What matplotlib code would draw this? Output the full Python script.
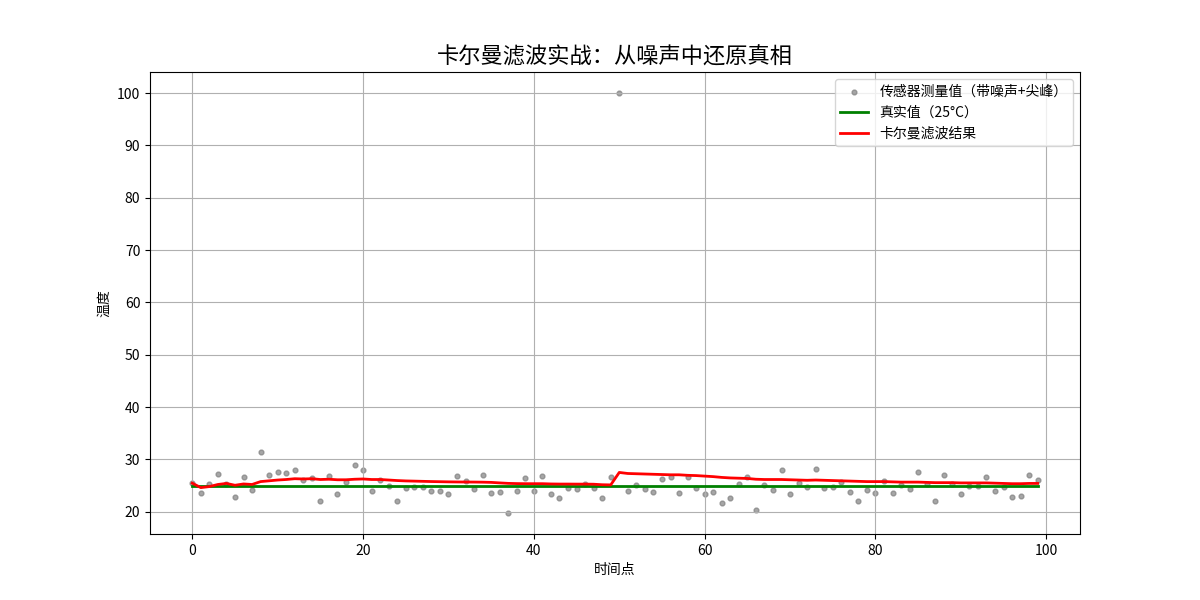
import matplotlib
matplotlib.use("Agg")
import matplotlib.pyplot as plt

plt.rcParams['font.family'] = ['Noto Sans CJK SC', 'DejaVu Sans']
plt.rcParams['axes.unicode_minus'] = False

# ------------------------
# Sensor data
# ------------------------
time_steps = list(range(100))

measurements = [
    25.5, 23.6, 25.3, 27.2, 25.3, 22.8, 26.6, 24.1, 31.4, 27.0,
    27.6, 27.4, 28.0, 26.0, 26.5, 22.0, 26.8, 23.4, 25.7, 28.9,
    28.0, 24.0, 26.0, 24.9, 22.0, 24.5, 24.8, 24.8, 23.9, 23.9,
    23.4, 26.8, 25.9, 24.3, 27.1, 23.6, 23.8, 19.75, 23.9, 26.4,
    23.9, 26.8, 23.4, 22.6, 24.5, 24.3, 25.3, 24.5, 22.6, 26.6,
    100.0, 23.9, 25.1, 24.3, 23.8, 26.2, 26.6, 23.6, 26.6, 24.5,
    23.4, 23.8, 21.7, 22.6, 25.3, 26.6, 20.3, 25.1, 24.1, 28.0,
    23.4, 25.5, 24.7, 28.1, 24.5, 24.7, 25.7, 23.8, 22.0, 24.1,
    23.6, 25.9, 23.6, 25.1, 24.3, 27.6, 25.3, 22.0, 27.0, 25.2,
    23.4, 24.9, 24.9, 26.6, 23.9, 24.7, 22.8, 23.0, 27.0, 26.0,
]

true_value = 25
true_values = [true_value] * len(time_steps)

kalman_estimates = [
    25.45, 24.6, 24.8, 25.2, 25.4, 25.05, 25.3, 25.2, 25.75, 25.9,
    26.05, 26.15, 26.3, 26.25, 26.3, 26.15, 26.2, 26.1, 26.1, 26.2,
    26.25, 26.15, 26.15, 26.05, 25.95, 25.88, 25.84, 25.8, 25.76, 25.73,
    25.7, 25.68, 25.67, 25.66, 25.64, 25.6, 25.5, 25.41, 25.37, 25.35,
    25.35, 25.35, 25.3, 25.28, 25.28, 25.27, 25.27, 25.25, 25.15, 25.12,
    27.5, 27.3, 27.25, 27.2, 27.15, 27.1, 27.05, 27.05, 26.95, 26.9,
    26.8, 26.7, 26.55, 26.45, 26.4, 26.35, 26.2, 26.15, 26.15, 26.15,
    26.1, 26.05, 26.0, 26.05, 26.0, 25.95, 25.9, 25.85, 25.8, 25.75,
    25.75, 25.75, 25.7, 25.65, 25.65, 25.65, 25.6, 25.55, 25.55, 25.55,
    25.5, 25.5, 25.5, 25.5, 25.45, 25.4, 25.35, 25.35, 25.4, 25.4,
]

# ------------------------
# Plot
# ------------------------
fig, ax = plt.subplots(figsize=(12, 6), dpi=100)

ax.scatter(time_steps, measurements, s=12, color='gray', alpha=0.7,
           label='传感器测量值（带噪声+尖峰）')
ax.plot(time_steps, true_values, color='green', linewidth=2,
        label='真实值（25°C）')
ax.plot(time_steps, kalman_estimates, color='red', linewidth=2,
        label='卡尔曼滤波结果')

ax.set_title('卡尔曼滤波实战：从噪声中还原真相', fontsize=16)
ax.set_xlabel('时间点')
ax.set_ylabel('温度')
ax.legend(loc='upper right')
ax.grid(True)

fig.savefig('out.png', dpi=100)
